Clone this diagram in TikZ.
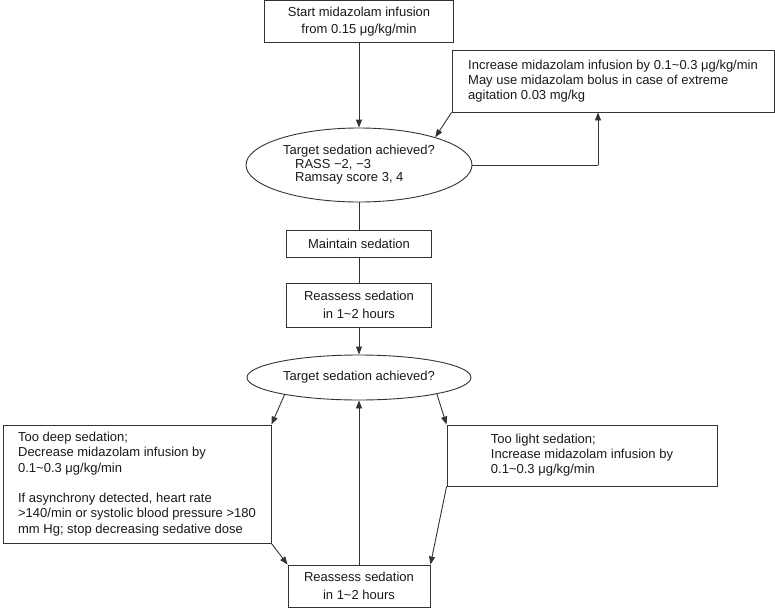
\documentclass[tikz,border=0pt]{standalone}
\usepackage{fontspec}
\setmainfont{Liberation Sans}
\usetikzlibrary{shapes.geometric,arrows.meta}
\begin{document}
\begin{tikzpicture}[x=1pt,y=-1pt,
  every node/.style={font=\fontsize{13}{15}\selectfont, inner sep=0pt, text=black!90},
  box/.style={draw=black!80, line width=0.9pt, rectangle, align=center},
  lbox/.style={box, align=left},
  oval/.style={draw=black!80, line width=0.9pt, ellipse, align=center},
  link/.style={draw=black!80, line width=0.9pt},
  arr/.style={link, -{Triangle[length=8pt,width=6pt]}}]
\useasboundingbox (0,0) rectangle (775,608);

\node[box, minimum width=189, minimum height=42, font=\fontsize{13}{17}\selectfont] (start) at (359,21.5)
  {Start midazolam infusion\\from 0.15 μg/kg/min};
\node[oval, minimum width=226, minimum height=74, align=left, font=\fontsize{13}{13.5}\selectfont] (e1) at (359,165)
  {Target sedation achieved?\\\hspace*{12pt}RASS −2, −3\\\hspace*{12pt}Ramsay score 3, 4};
\node[lbox, minimum width=322, minimum height=62] (r1) at (613,81)
  {Increase midazolam infusion by 0.1\textasciitilde 0.3 μg/kg/min\\May use midazolam bolus in case of extreme\\agitation 0.03 mg/kg};
\node[box, minimum width=145, minimum height=27] (m) at (359,243.5) {Maintain sedation};
\node[box, minimum width=145, minimum height=44, font=\fontsize{13}{18}\selectfont] (ra) at (359,305)
  {Reassess sedation\\in 1\textasciitilde 2 hours};
\node[oval, minimum width=224, minimum height=45] (e2) at (359,377.5) {Target sedation achieved?};
\node[lbox, minimum width=268, minimum height=118, font=\fontsize{13}{15.3}\selectfont] (lb) at (137,484)
  {Too deep sedation;\\Decrease midazolam infusion by\\0.1\textasciitilde 0.3 μg/kg/min\\[15.3pt]If asynchrony detected, heart rate\\>140/min or systolic blood pressure >180\\mm Hg; stop decreasing sedative dose};
\node[lbox, minimum width=270, minimum height=61] (rb) at (582,455.5)
  {Too light sedation;\\Increase midazolam infusion by\\0.1\textasciitilde 0.3 μg/kg/min};
\node[box, minimum width=142, minimum height=42, font=\fontsize{13}{18}\selectfont] (rb2) at (359,586)
  {Reassess sedation\\in 1\textasciitilde 2 hours};

\coordinate (k) at (598,165);
\draw[arr] (start.south) -- (e1.north);
\draw[link] (e1.east) -- (k);
\draw[arr] (k) -- (k |- r1.south);
\draw[arr] (r1.south west) -- (e1.20);
\draw[link] (e1.south) -- (m.north);
\draw[link] (m.south) -- (ra.north);
\draw[arr] (ra.south) -- (e2.north);
\draw[arr] (e2.193) -- (lb.north east);
\draw[arr] (e2.-12) -- (rb.north west);
\draw[arr] (lb.south east) -- (rb2.north west);
\draw[arr] (rb.south west) -- (rb2.north east);
\draw[arr] (rb2.north) -- (e2.south);
\end{tikzpicture}
\end{document}
